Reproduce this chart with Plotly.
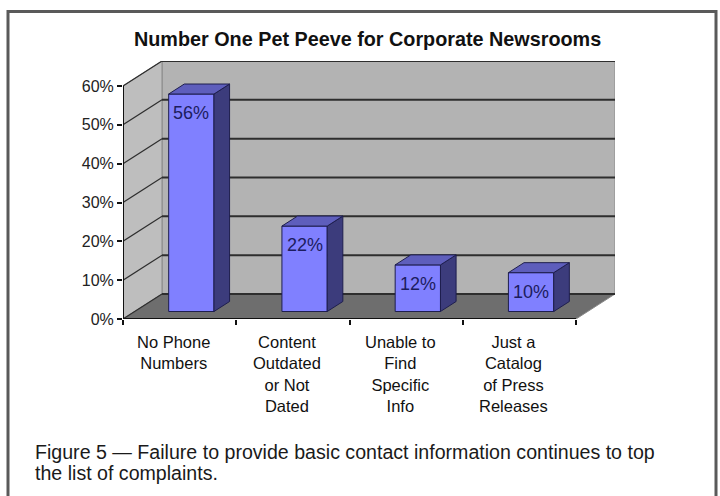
import plotly.graph_objects as go

# ---------------- data ----------------
categories = ["No Phone<br>Numbers", "Content<br>Outdated<br>or Not<br>Dated",
              "Unable to<br>Find<br>Specific<br>Info", "Just a<br>Catalog<br>of Press<br>Releases"]
values = [56, 22, 12, 10]
bar_labels = ["56%", "22%", "12%", "10%"]
y_ticks = [0, 10, 20, 30, 40, 50, 60]
y_tick_text = ["0%", "10%", "20%", "30%", "40%", "50%", "60%"]
title_text = "Number One Pet Peeve for Corporate Newsrooms"
caption_lines = ["Figure 5 \u2014 Failure to provide basic contact information continues to top",
                 "the list of complaints."]

# ---------------- pseudo-3D geometry ----------------
W, H = 720, 496
L, R, T, B = 123, 105, 61, 177            # plot area margins (px)
n = len(categories)
ymax = y_ticks[-1]
DEPTH_PX_X, DEPTH_PX_Y = 39, 25            # depth of the floor in pixels
plot_w = W - L - R
plot_h = H - T - B
ux = (plot_w - DEPTH_PX_X) / n             # px per category
DX = DEPTH_PX_X / ux
uy = (plot_h - DEPTH_PX_Y) / ymax          # px per %
DY = DEPTH_PX_Y / uy
D0, D1 = 0.3, 0.7                          # bar depth span (fraction of floor depth)
HW = 0.2                                   # half bar width (category units)

FONT = "Liberation Sans, Arial, sans-serif"
fig = go.Figure()


def path_of(p):
    return "M " + " L ".join(f"{x},{y}" for x, y in p) + " Z"


def poly_trace(polys, fill, line_color, lw=1):
    xs, ys = [], []
    for p in polys:
        for (x, y) in p:
            xs.append(x); ys.append(y)
        xs.append(p[0][0]); ys.append(p[0][1])
        xs.append(None); ys.append(None)
    return go.Scatter(x=xs, y=ys, mode="lines", fill="toself", fillcolor=fill,
                      line=dict(color=line_color, width=lw), hoverinfo="skip",
                      showlegend=False)

shapes = []
# walls (below traces)
back_wall = [(DX, DY), (n + DX, DY), (n + DX, ymax + DY), (DX, ymax + DY)]
left_wall = [(0, 0), (0, ymax), (DX, ymax + DY), (DX, DY)]
floor = [(0, 0), (n, 0), (n + DX, DY), (DX, DY)]
for poly, col in [(back_wall, "#b3b3b3"), (left_wall, "#bebebe"), (floor, "#6e6e6e")]:
    shapes.append(dict(type="path", xref="x", yref="y", path=path_of(poly),
                       fillcolor=col, line=dict(color="#8a8a8a", width=1), layer="below"))
# gridlines
for v in y_ticks:
    shapes.append(dict(type="line", xref="x", yref="y", x0=DX, x1=n + DX, y0=v + DY, y1=v + DY,
                       line=dict(color="#2e2e2e", width=2), layer="below"))
    shapes.append(dict(type="line", xref="x", yref="y", x0=0, x1=DX, y0=v, y1=v + DY,
                       line=dict(color="#2e2e2e", width=1.2), layer="below"))
# front axis edges
shapes.append(dict(type="line", xref="x", yref="y", x0=0, x1=0, y0=0, y1=ymax,
                   line=dict(color="#111111", width=2), layer="below"))
shapes.append(dict(type="line", xref="x", yref="y", x0=0, x1=n, y0=0, y1=0,
                   line=dict(color="#111111", width=2), layer="below"))
# outer frame
shapes.append(dict(type="rect", xref="paper", yref="paper",
                   x0=(8 - L) / plot_w, x1=(716 - L) / plot_w,
                   y0=(H - B - 520) / plot_h, y1=(H - B - 11.5) / plot_h,
                   line=dict(color="#5a5a5a", width=3), fillcolor="rgba(0,0,0,0)"))

# bars
centers = [i + 0.5 for i in range(n)]
sides, tops = [], []
for c, v in zip(centers, values):
    x0f, x1f = c - HW + D0 * DX, c + HW + D0 * DX
    x0b, x1b = c - HW + D1 * DX, c + HW + D1 * DX
    yb0, yb1 = D0 * DY, D1 * DY
    sides.append([(x1f, yb0), (x1f, v + yb0), (x1b, v + yb1), (x1b, yb1)])
    tops.append([(x0f, v + yb0), (x1f, v + yb0), (x1b, v + yb1), (x0b, v + yb1)])

fig.add_trace(go.Bar(x=[c + D0 * DX for c in centers], y=values, base=D0 * DY,
                     width=2 * HW, marker=dict(color="#8080ff",
                     line=dict(color="#1e1e4e", width=1)),
                     hoverinfo="skip", showlegend=False))
fig.add_trace(poly_trace(sides, "#3c3c7c", "#1e1e4e", 1))
fig.add_trace(poly_trace(tops, "#5e5ebc", "#1e1e4e", 1))

annotations = []
for c, v, t in zip(centers, values, bar_labels):
    annotations.append(dict(x=c + D0 * DX, y=v + D0 * DY, text=t, showarrow=False,
                            xanchor="center", yanchor="middle", yshift=-19,
                            font=dict(family=FONT, size=18, color="#1c1c5e")))
for c, t in zip(centers, categories):
    annotations.append(dict(x=c, y=0, text=t, showarrow=False, xanchor="center",
                            yanchor="top", yshift=-12, xshift=-6,
                            font=dict(family=FONT, size=16.5, color="#111111")))
for line_text, ypx in zip(caption_lines, [452, 473]):
    annotations.append(dict(xref="paper", yref="paper", x=(33 - L) / plot_w,
                            y=(H - B - ypx) / plot_h, xanchor="left", yanchor="middle",
                            align="left", text=line_text, showarrow=False,
                            font=dict(family=FONT, size=19.6, color="#1a1a1a")))
annotations.append(dict(xref="paper", yref="paper", x=(367 - L) / plot_w,
                        y=(H - B - 39) / plot_h, xanchor="center", yanchor="middle",
                        text="<b>" + title_text + "</b>", showarrow=False,
                        font=dict(family=FONT, size=19.8, color="#111111")))

fig.update_layout(
    width=W, height=H, margin=dict(l=L, r=R, t=T, b=B),
    paper_bgcolor="white", plot_bgcolor="white",
    showlegend=False, annotations=annotations, shapes=shapes,
    xaxis=dict(range=[0, n + DX], tickvals=list(range(n + 1)), showticklabels=False,
               ticks="outside", ticklen=5, tickcolor="#111111", tickwidth=1.5,
               showgrid=False, zeroline=False, showline=False, fixedrange=True),
    yaxis=dict(range=[0, ymax + DY], tickvals=y_ticks, ticktext=y_tick_text,
               ticks="outside", ticklen=5, tickcolor="#111111", tickwidth=1.5,
               showgrid=False, zeroline=False, showline=False, fixedrange=True,
               tickfont=dict(family=FONT, size=16, color="#222222")),
)

fig.write_html("out.html")
